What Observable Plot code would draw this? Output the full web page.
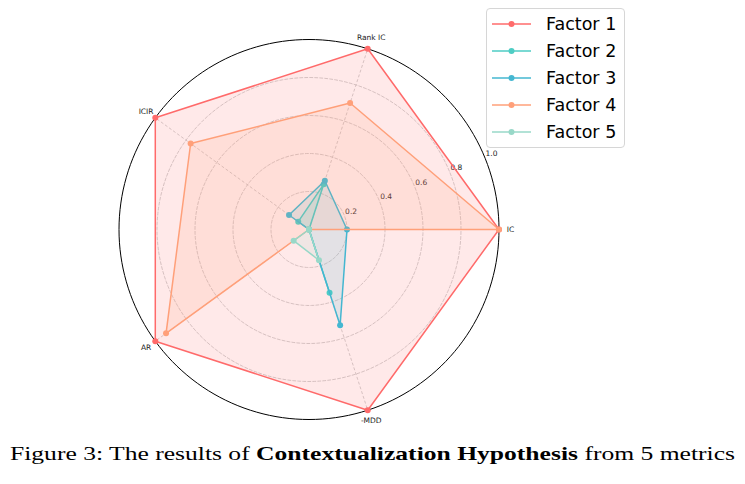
<!DOCTYPE html>
<html>
<head>
<meta charset="utf-8">
<script src="https://cdn.jsdelivr.net/npm/d3@7"></script>
<script src="https://cdn.jsdelivr.net/npm/@observablehq/plot@0.6"></script>
<style>
  body { margin: 0; background: #fff; }
  #wrap { position: relative; width: 745px; height: 484px; font-family: "DejaVu Sans", sans-serif; }
  #legend {
    position: absolute; left: 486px; top: 8px; width: 139px; height: 140px;
    box-sizing: border-box; border: 1px solid #d6d6d6; border-radius: 4px; background: rgba(255,255,255,0.85);
  }
  .row { position: absolute; left: 0; height: 20px; display: flex; align-items: center; }
  .row span { font-size: 17.5px; color: #000; line-height: 20px; }
</style>
</head>
<body>
<div id="wrap"></div>
<script>
// Metrics around the radar, in counter-clockwise order starting at the right
const metrics = ["IC", "Rank IC", "ICIR", "AR", "-MDD"];
const factorNames = ["Factor 1", "Factor 2", "Factor 3", "Factor 4", "Factor 5"];
const factor1 = [1.00, 1.00, 1.00, 1.00, 1.00];
const factor2 = [0.00, 0.25, 0.07, 0.00, 0.35];
const factor3 = [0.20, 0.27, 0.13, 0.00, 0.53];
const factor4 = [1.00, 0.70, 0.77, 0.93, 0.00];
const factor5 = [0.00, 0.00, 0.00, 0.10, 0.17];
const factorColors = ["#FF6B6B", "#4ECDC4", "#45B7D1", "#FFA07A", "#98D8C8"];
const radialTicks = [0.2, 0.4, 0.6, 0.8, 1.0];

const series = [factor1, factor2, factor3, factor4, factor5];
const angle = i => (i * 2 * Math.PI) / metrics.length;

// Polygon vertices of every factor
const points = series.flatMap((vals, s) =>
  vals.map((v, i) => ({
    factor: factorNames[s], metric: metrics[i], value: v,
    x: v * Math.cos(angle(i)), y: v * Math.sin(angle(i))
  }))
);

// Concentric grid rings
const ringPts = radialTicks.flatMap(r =>
  d3.range(0, 360, 2).map(a => ({ r, x: r * Math.cos(a * Math.PI / 180), y: r * Math.sin(a * Math.PI / 180) }))
);

const cx = 308.5, cy = 229, R = 190;
const labelAngle = 22.5 * Math.PI / 180;

const marks = [
  Plot.line(ringPts.filter(d => d.r < 1), {
    x: "x", y: "y", z: "r", curve: "linear-closed",
    stroke: "#c4c4c4", strokeWidth: 0.8, strokeDasharray: "3,2"
  }),
  Plot.link(metrics, {
    x1: 0, y1: 0,
    x2: (d, i) => Math.cos(angle(i)), y2: (d, i) => Math.sin(angle(i)),
    stroke: "#c4c4c4", strokeWidth: 0.8, strokeDasharray: "3,2"
  }),
  Plot.line(ringPts.filter(d => d.r === 1), {
    x: "x", y: "y", curve: "linear-closed", stroke: "#000", strokeWidth: 1
  }),
  Plot.text(radialTicks, {
    x: d => d * Math.cos(labelAngle), y: d => d * Math.sin(labelAngle),
    text: d => d.toFixed(1), textAnchor: "start", lineAnchor: "bottom",
    dx: 1, dy: -1, fontSize: 7.5, fill: "#222", fontFamily: "DejaVu Sans"
  }),
  Plot.text(metrics, {
    x: (d, i) => 1.06 * Math.cos(angle(i)), y: (d, i) => 1.06 * Math.sin(angle(i)),
    text: d => d, textAnchor: "middle", lineAnchor: "middle",
    fontSize: 7.5, fill: "#222", fontFamily: "DejaVu Sans"
  })
];

factorNames.forEach((name, s) => {
  const pts = points.filter(d => d.factor === name);
  marks.push(
    Plot.line(pts, { x: "x", y: "y", curve: "linear-closed", stroke: factorColors[s], strokeWidth: 1.5 }),
    Plot.dot(pts, { x: "x", y: "y", r: 3, fill: factorColors[s], stroke: "none" }),
    Plot.line(pts, { x: "x", y: "y", curve: "linear-closed", stroke: "none", fill: factorColors[s], fillOpacity: 0.15 })
  );
});

const chart = Plot.plot({
  width: 745, height: 440, margin: 0,
  x: { domain: [-1, 1], range: [cx - R, cx + R], axis: null },
  y: { domain: [-1, 1], range: [cy + R, cy - R], axis: null },
  style: { background: "#fff", overflow: "visible" },
  marks
});

const wrap = document.getElementById("wrap");
wrap.appendChild(chart);

// Legend box
const legend = document.createElement("div");
legend.id = "legend";
factorNames.forEach((name, s) => {
  const row = document.createElement("div");
  row.className = "row";
  row.style.top = (5 + s * 27) + "px";
  row.innerHTML =
    `<svg width="45" height="20" style="margin-left:5px"><line x1="0" x2="39" y1="10" y2="10" stroke="${factorColors[s]}" stroke-width="1.5"/>` +
    `<circle cx="19.5" cy="10" r="3" fill="${factorColors[s]}"/></svg><span>${name}</span>`;
  row.querySelector("span").style.marginLeft = "9px";
  legend.appendChild(row);
});
wrap.appendChild(legend);

// Caption
const ns = "http://www.w3.org/2000/svg";
const cap = document.createElementNS(ns, "svg");
cap.setAttribute("width", 745);
cap.setAttribute("height", 44);
cap.style.display = "block";
const t = document.createElementNS(ns, "text");
t.setAttribute("x", 10);
t.setAttribute("y", 20);
t.setAttribute("textLength", 725);
t.setAttribute("lengthAdjust", "spacingAndGlyphs");
t.setAttribute("font-family", "Liberation Serif, serif");
t.setAttribute("font-size", 19.5);
const parts = [["Figure 3: The results of ", "normal"], ["Contextualization Hypothesis", "bold"], [" from 5 metrics", "normal"]];
parts.forEach(([txt, w]) => {
  const sp = document.createElementNS(ns, "tspan");
  sp.setAttribute("font-weight", w);
  sp.textContent = txt;
  t.appendChild(sp);
});
t.setAttribute("xml:space", "preserve");
cap.appendChild(t);
wrap.appendChild(cap);
</script>
</body>
</html>
